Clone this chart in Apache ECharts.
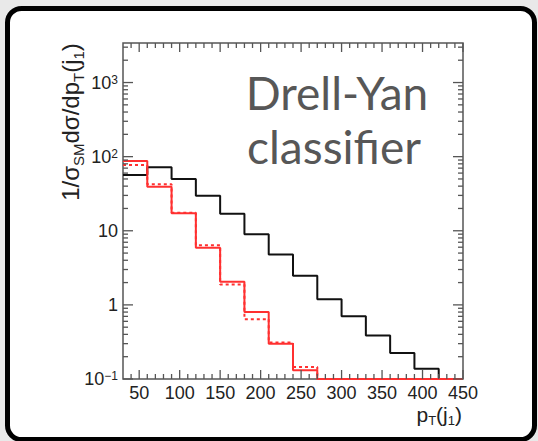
<!DOCTYPE html>
<html>
<head>
<meta charset="utf-8">
<script src="https://cdn.jsdelivr.net/npm/echarts@6/dist/echarts.min.js"></script>
<style>
html,body{margin:0;padding:0;background:#e9e9e9;}
#c{width:538px;height:441px;}
</style>
</head>
<body>
<div id="c"></div>
<script>
// ---- data ----
const binEdges = [30, 60, 90, 120, 150, 180, 210, 240, 270, 300, 330, 360, 390, 420, 450];
const blackHist = [56.6, 72, 50, 29.7, 17, 9.0, 4.8, 2.47, 1.19, 0.70, 0.385, 0.224, 0.138, 0];
const redSolid  = [87.5, 39.3, 17.2, 5.9, 2.05, 0.80, 0.30, 0.131, 0, 0, 0, 0, 0, 0];
const redDotted = [77, 42.4, 17.5, 6.4, 1.89, 0.64, 0.31, 0.145, 0, 0, 0, 0, 0, 0];
const xTickLabels = [50, 100, 150, 200, 250, 300, 350, 400, 450];
const xMajorTicks = [50, 100, 150, 200, 250, 300, 350, 400, 450];
const xMinorTicks = [40, 60, 70, 80, 90, 110, 120, 130, 140, 160, 170, 180, 190, 210, 220, 230, 240,
                     260, 270, 280, 290, 310, 320, 330, 340, 360, 370, 380, 390, 410, 420, 430, 440];
const yMajorTicks = [0.1, 1, 10, 100, 1000];
const yMinorTicks = [0.2,0.3,0.4,0.5,0.6,0.7,0.8,0.9, 2,3,4,5,6,7,8,9, 20,30,40,50,60,70,80,90,
                     200,300,400,500,600,700,800,900, 2000,3000];
const xMin = 30, xMax = 450, yMin = 0.1, yMax = 3415;

function stepPoints(vals) {
  const pts = [];
  for (let i = 0; i < vals.length; i++) pts.push([binEdges[i], Math.max(vals[i], yMin)]);
  pts.push([binEdges[vals.length], Math.max(vals[vals.length - 1], yMin)]);
  return pts;
}

const chart = echarts.init(document.getElementById('c'), null, {renderer: 'svg'});
const tickColor = '#555';

function xTickRender(len) {
  return function (params, api) {
    const cs = params.coordSys;
    const x = api.coord([api.value(0), yMin])[0];
    const yb = cs.y + cs.height, yt = cs.y;
    return {type: 'group', children: [
      {type: 'line', shape: {x1: x, y1: yb, x2: x, y2: yb - len}, style: {stroke: tickColor, lineWidth: 1.3}},
      {type: 'line', shape: {x1: x, y1: yt, x2: x, y2: yt + len}, style: {stroke: tickColor, lineWidth: 1.3}}
    ]};
  };
}
function yTickRender(len) {
  return function (params, api) {
    const cs = params.coordSys;
    const y = api.coord([xMin, api.value(1)])[1];
    const xl = cs.x, xr = cs.x + cs.width;
    return {type: 'group', children: [
      {type: 'line', shape: {x1: xl, y1: y, x2: xl + len, y2: y}, style: {stroke: tickColor, lineWidth: 1.3}},
      {type: 'line', shape: {x1: xr, y1: y, x2: xr - len, y2: y}, style: {stroke: tickColor, lineWidth: 1.3}}
    ]};
  };
}

const labelFont = 'Liberation Sans, Arial, sans-serif';

chart.setOption({
  animation: false,
  backgroundColor: 'transparent',
  grid: {left: 123, top: 43, width: 340, height: 336, show: true, borderColor: tickColor, borderWidth: 1.5, backgroundColor: 'transparent'},
  xAxis: {
    type: 'value', min: xMin, max: xMax, interval: 10,
    axisLine: {show: false}, axisTick: {show: false}, splitLine: {show: false},
    axisLabel: {
      margin: 5, fontSize: 18, color: '#222', fontFamily: labelFont,
      formatter: function (v) { return xTickLabels.indexOf(Math.round(v)) >= 0 ? String(Math.round(v)) : ''; }
    }
  },
  yAxis: {
    type: 'log', logBase: 10, min: yMin, max: yMax,
    axisLine: {show: false}, axisTick: {show: false}, splitLine: {show: false},
    axisLabel: {
      margin: 5, fontSize: 18, color: '#222', fontFamily: labelFont,
      formatter: function (v) {
        const l = Math.log10(v), e = Math.round(l);
        if (Math.abs(l - e) > 1e-6) return '';
        if (e === 0) return '1';
        if (e === 1) return '10';
        return '10{sup|' + (e < 0 ? '\u2212' + (-e) : e) + '}';
      },
      rich: {sup: {fontSize: 12, verticalAlign: 'top', lineHeight: 12, color: '#222', fontFamily: labelFont}}
    }
  },
  graphic: [
    {type: 'rect', z: -10, shape: {x: 7.5, y: 8.5, width: 527, height: 431, r: 14},
     style: {fill: '#fff', stroke: '#000', lineWidth: 5}},
    {type: 'text', x: 337, y: 92, style: {text: 'Drell-Yan', font: '46px Lato', fill: '#575757', align: 'center', verticalAlign: 'middle'}},
    {type: 'text', x: 334, y: 146, style: {text: 'classifier', font: '46px Lato', fill: '#575757', align: 'center', verticalAlign: 'middle'}},
    {type: 'text', x: 70, y: 122, rotation: Math.PI / 2,
     style: {text: '1/\u03c3{sub|SM}d\u03c3/dp{sub|T}(j{sub|1})', fontSize: 24, fontFamily: labelFont, fill: '#222',
             align: 'center', verticalAlign: 'middle', lineHeight: 32,
             rich: {sub: {fontSize: 15, verticalAlign: 'bottom', lineHeight: 15, fontFamily: labelFont, fill: '#222'}}}},
    {type: 'text', x: 462, y: 414,
     style: {text: 'p{sub|T}(j{sub|1})', fontSize: 21, fontFamily: labelFont, fill: '#222',
             align: 'right', verticalAlign: 'middle', lineHeight: 26,
             rich: {sub: {fontSize: 13, verticalAlign: 'bottom', lineHeight: 13, fontFamily: labelFont, fill: '#222'}}}}
  ],
  series: [
    {type: 'line', step: 'end', data: stepPoints(blackHist), showSymbol: false, clip: false,
     lineStyle: {color: '#111', width: 2}, z: 3},
    {type: 'line', step: 'end', data: stepPoints(redDotted), showSymbol: false, clip: false,
     lineStyle: {color: '#ff3030', width: 2, type: [3, 3]}, z: 4},
    {type: 'line', step: 'end', data: stepPoints(redSolid), showSymbol: false, clip: false,
     lineStyle: {color: '#ff3030', width: 2}, z: 5},
    {type: 'custom', renderItem: xTickRender(9), data: xMajorTicks.map(v => [v, 1]), encode: {x: 0, y: 1}, z: 6, silent: true},
    {type: 'custom', renderItem: xTickRender(5), data: xMinorTicks.map(v => [v, 1]), encode: {x: 0, y: 1}, z: 6, silent: true},
    {type: 'custom', renderItem: yTickRender(10), data: yMajorTicks.map(v => [xMin, v]), encode: {x: 0, y: 1}, z: 6, silent: true},
    {type: 'custom', renderItem: yTickRender(5), data: yMinorTicks.map(v => [xMin, v]), encode: {x: 0, y: 1}, z: 6, silent: true}
  ]
});
</script>
</body>
</html>
